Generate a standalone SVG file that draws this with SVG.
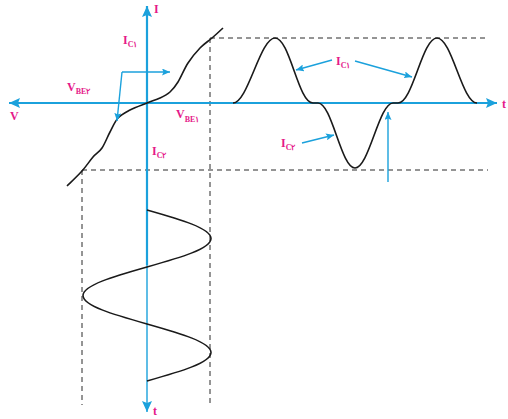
<svg xmlns="http://www.w3.org/2000/svg" width="508" height="419" viewBox="0 0 508 419">
<style>
.ax{stroke:#1ba1dc;stroke-width:2.2;fill:none}
.ax2{stroke:#1ba1dc;stroke-width:1.4;fill:none}
.ar{stroke:#1ba1dc;stroke-width:1.4;fill:none}
.cv{stroke:#1a1a1a;stroke-width:1.6;fill:none}
.ds{stroke:#2a2a2a;stroke-width:1;fill:none;stroke-dasharray:5 4}
.lb{font-family:"Liberation Serif","DejaVu Serif",serif;font-weight:bold;fill:#e5198a;font-size:12px}
.sb{font-size:8px}
</style>
<defs>
<marker id="big" markerUnits="userSpaceOnUse" markerWidth="12" markerHeight="10" refX="11" refY="5" orient="auto">
<path d="M0,0 L11,5 L0,10 L2,5 Z" fill="#1ba1dc"/>
</marker>
<marker id="sm" markerUnits="userSpaceOnUse" markerWidth="9" markerHeight="7" refX="8" refY="3.5" orient="auto">
<path d="M0,0 L8,3.5 L0,7 L1.5,3.5 Z" fill="#1ba1dc"/>
</marker>
</defs>
<g id="dashed">
<line class="ds" x1="210" y1="38" x2="486" y2="38"/>
<line class="ds" x1="82" y1="170" x2="488" y2="170"/>
<line class="ds" x1="82" y1="170" x2="82" y2="405"/>
<line class="ds" x1="210" y1="38" x2="210" y2="405"/>
</g>
<g id="axes">
<line class="ax" x1="147" y1="265" x2="147" y2="6" marker-end="url(#big)"/>
<line class="ax2" x1="147" y1="260" x2="147" y2="412" marker-end="url(#big)"/>
<line class="ax" x1="147" y1="103" x2="9" y2="103" marker-end="url(#big)"/>
<line class="ax" x1="147" y1="103" x2="497" y2="103" marker-end="url(#big)"/>
</g>
<g id="transfer-curve">
<path class="cv" d="M67,186 C69.5,183.5 77.7,175.8 82,171 C86.3,166.2 89.7,160.8 93,157 C96.3,153.2 99.2,152.2 102,148 C104.8,143.8 107.3,137 110,132 C112.7,127 114.7,121.7 118,118 C121.3,114.3 125.2,112.5 130,110 C134.8,107.5 142,105 147,103 C152,101 156.2,99.8 160,98 C163.8,96.2 167,94.7 170,92 C173,89.3 175,86.8 178,82 C181,77.2 184.3,68.7 188,63 C191.7,57.3 196,52.2 200,48 C204,43.8 208.2,41.3 212,38 C215.8,34.7 221.2,29.7 223,28"/>
</g>
<g id="output-wave">
<path class="cv" d="M233,103 C248,103 260,38 275,38 C290,38 298,103 313,103 L318,103 C332,103 341,168 355,168 C369,168 379,103 393,103 L398,103 C413,103 422,38 437,38 C452,38 462,103 477,103"/>
</g>
<g id="input-wave">
<path class="cv" d="M147,210 C179.8,219.3 211,228.2 211,238.5 C211,248.8 179.8,257.7 147,267 C114.2,276.3 83,285.2 83,295.5 C83,305.8 114.2,314.7 147,324 C179.8,333.3 211,342.2 211,352.5 C211,362.8 179.8,371.7 147,381"/>
</g>
<g id="connectors">
<polyline class="ar" points="122,72 170,72" marker-end="url(#sm)"/>
<line class="ar" x1="122" y1="72" x2="117" y2="121" marker-end="url(#sm)"/>
<line class="ar" x1="332" y1="60" x2="296" y2="70" marker-end="url(#sm)"/>
<line class="ar" x1="355" y1="61" x2="412" y2="77" marker-end="url(#sm)"/>
<line class="ar" x1="302" y1="143" x2="334" y2="135" marker-end="url(#sm)"/>
<line class="ar" x1="388" y1="182" x2="388" y2="112" marker-end="url(#sm)"/>
</g>
<g id="labels">
<text class="lb" x="154" y="13">I</text>
<text class="lb" x="123" y="44">I<tspan class="sb" dy="3">C۱</tspan></text>
<text class="lb" x="67" y="91">V<tspan class="sb" dy="3">BE۲</tspan></text>
<text class="lb" x="10" y="120">V</text>
<text class="lb" x="176" y="118">V<tspan class="sb" dy="4">BE۱</tspan></text>
<text class="lb" x="152" y="155">I<tspan class="sb" dy="3">C۲</tspan></text>
<text class="lb" x="336" y="65">I<tspan class="sb" dy="3">C۱</tspan></text>
<text class="lb" x="281" y="147">I<tspan class="sb" dy="3">C۲</tspan></text>
<text class="lb" x="502" y="108">t</text>
<text class="lb" x="153" y="415">t</text>
</g>
</svg>
